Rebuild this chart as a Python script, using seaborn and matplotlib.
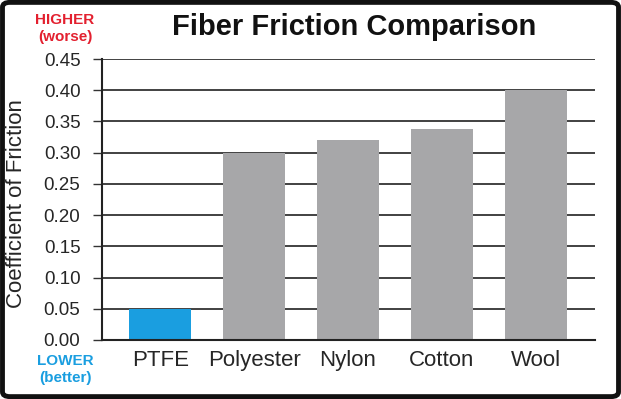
import matplotlib
matplotlib.use("Agg")
import matplotlib.pyplot as plt
import seaborn as sns
import pandas as pd
from matplotlib.patches import FancyBboxPatch

fibers = ["PTFE", "Polyester", "Nylon", "Cotton", "Wool"]
friction = [0.05, 0.30, 0.32, 0.338, 0.40]
bar_colors = ["#1a9ee0", "#a7a7a9", "#a7a7a9", "#a7a7a9", "#a7a7a9"]
yticks = [0.00, 0.05, 0.10, 0.15, 0.20, 0.25, 0.30, 0.35, 0.40, 0.45]

df = pd.DataFrame({"fiber": fibers, "cof": friction})

sns.set_style("white")
plt.rcParams["font.family"] = ["Liberation Sans", "DejaVu Sans"]

fig = plt.figure(figsize=(6.21, 3.99), dpi=100)
ax = fig.add_axes([102 / 621, 1 - 340 / 399, (595 - 102) / 621, (340 - 59) / 399])

# grid lines first so the bars sit on top of them
for y in yticks[1:]:
  ax.axhline(y, color="#333333", lw=1.3, zorder=0)

sns.barplot(data=df, x="fiber", y="cof", hue="fiber", palette=bar_colors,
            width=0.66, legend=False, ax=ax, zorder=2, saturation=1,
            edgecolor="none", linewidth=0)

ax.set_xlim(-0.62, 4.63)
ax.set_ylim(0, 0.45)
ax.set_yticks(yticks)
ax.set_yticklabels([f"{v:.2f}" for v in yticks], fontsize=13.5)
ax.tick_params(axis="y", length=6.5, width=1.0, color="#333333", pad=9,
               left=True)
ax.tick_params(axis="x", length=0, pad=7, labelsize=16)
ax.set_xlabel("")
ax.set_ylabel("Coefficient of Friction", fontsize=16)
ax.yaxis.set_label_coords(-0.152, 0.485)

for side in ["top", "right"]:
  ax.spines[side].set_visible(False)
ax.spines["left"].set_color("#222222")
ax.spines["left"].set_linewidth(1.5)
ax.spines["bottom"].set_color("#222222")
ax.spines["bottom"].set_linewidth(1.5)
ax.spines["left"].set_zorder(3)

fig.text(354 / 621, 1 - 27 / 399, "Fiber Friction Comparison", fontsize=21,
         fontweight="bold", ha="center", va="center", color="#111111")

fig.text(65 / 621, 1 - 20 / 399, "HIGHER", fontsize=11, fontweight="bold",
         color="#e3202f", ha="center", va="center")
fig.text(65 / 621, 1 - 37 / 399, "(worse)", fontsize=11, fontweight="bold",
         color="#e3202f", ha="center", va="center")
fig.text(65 / 621, 1 - 361 / 399, "LOWER", fontsize=11, fontweight="bold",
         color="#1a9ee0", ha="center", va="center")
fig.text(65 / 621, 1 - 378 / 399, "(better)", fontsize=11, fontweight="bold",
         color="#1a9ee0", ha="center", va="center")

# rounded black frame around the whole picture
frame = FancyBboxPatch((0.004, 0.006), 0.992, 0.988,
                       boxstyle="round,pad=0,rounding_size=0.012",
                       transform=fig.transFigure, fill=False,
                       edgecolor="#111111", linewidth=3.5)
fig.patches.append(frame)

fig.savefig("out.png", dpi=100)
